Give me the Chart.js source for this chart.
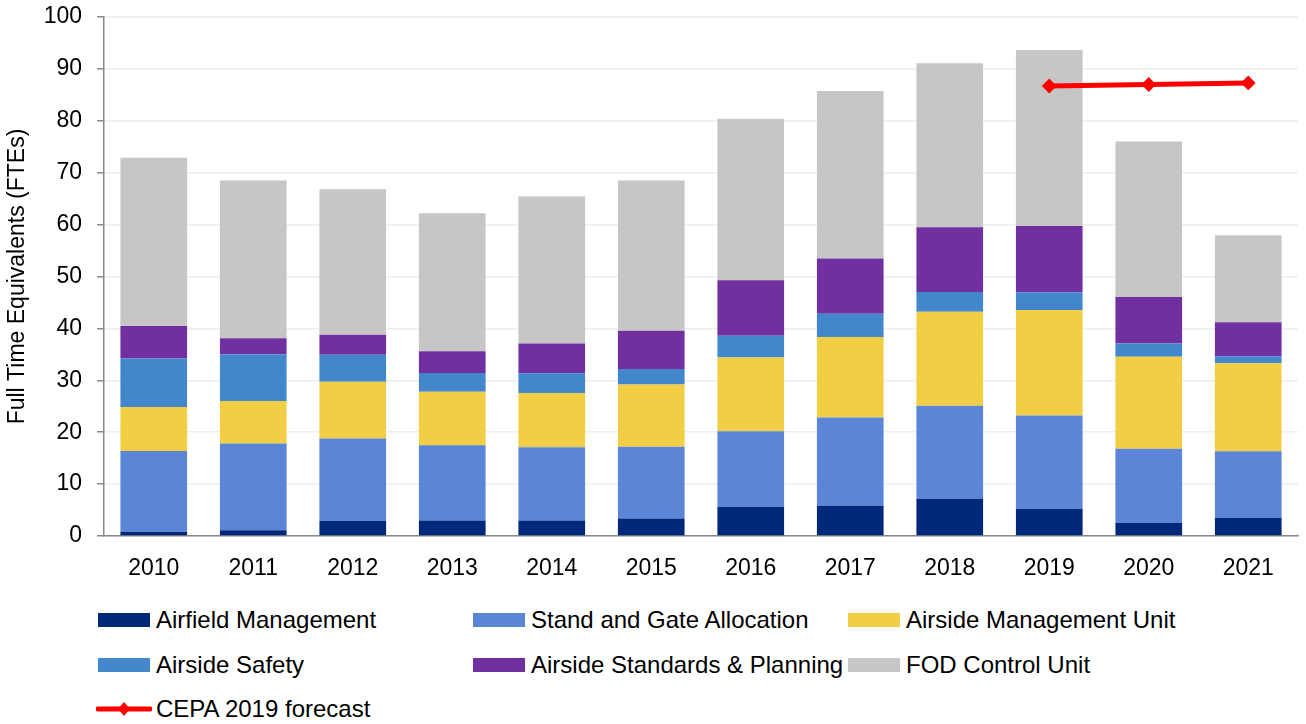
<!DOCTYPE html>
<html>
<head>
<meta charset="utf-8">
<script src="https://cdn.jsdelivr.net/npm/chart.js@4/dist/chart.umd.min.js"></script>
<style>
  body { margin: 0; background: #fff; font-family: "Liberation Sans", Arial, sans-serif; }
  #wrap { position: relative; width: 1306px; height: 724px; }
  #fte { position: absolute; left: 0; top: 0; }
  #legend {
    position: absolute; left: 96px; top: 598px;
    display: grid; grid-template-columns: 375px 375px 375px; grid-auto-rows: 44.5px;
  }
  .item { display: flex; align-items: center; font-size: 24px; color: #000; white-space: nowrap; }
  .swatch { width: 52px; height: 14px; margin: 0 6px 0 2px; }
</style>
</head>
<body>
<div id="wrap">
  <canvas id="fte" width="1306" height="590"></canvas>
  <div id="legend"></div>
</div>
<script>
const years = ['2010', '2011', '2012', '2013', '2014', '2015', '2016', '2017', '2018', '2019', '2020', '2021'];

// FTEs per team, stacked bottom to top
const airfieldMgmt = [0.8, 1.1, 2.9, 3.0, 3.0, 3.35, 5.65, 5.85, 7.2, 5.25, 2.55, 3.5];
const standGate = [15.6, 16.7, 15.9, 14.5, 14.1, 13.85, 14.55, 17.0, 17.9, 17.95, 14.25, 12.85];
const airsideMgmtUnit = [8.45, 8.2, 10.9, 10.3, 10.45, 12.0, 14.2, 15.5, 18.1, 20.35, 17.75, 16.95];
const airsideSafety = [9.35, 9.0, 5.2, 3.6, 3.8, 3.0, 4.2, 4.45, 3.8, 3.4, 2.55, 1.35];
const standardsPlanning = [6.25, 3.1, 3.9, 4.2, 5.75, 7.35, 10.7, 10.65, 12.5, 12.8, 8.95, 6.55];
const fodControl = [32.45, 30.4, 28.0, 26.6, 28.3, 28.95, 31.1, 32.3, 31.6, 33.9, 29.95, 16.75];
const cepaForecast = [null, null, null, null, null, null, null, null, null, 86.7, 87.0, 87.3];

const yTicks = [0, 10, 20, 30, 40, 50, 60, 70, 80, 90, 100];

const font = { family: '"Liberation Sans", Arial, sans-serif', size: 23 };

const bar = (label, data, color) => ({
  type: 'bar',
  label: label,
  data: data,
  backgroundColor: color,
  borderWidth: 0,
  stack: 'teams',
  order: 1,
  barPercentage: 0.67,
  categoryPercentage: 1,
});

const datasets = [
  bar('Airfield Management', airfieldMgmt, '#00287a'),
  bar('Stand and Gate Allocation', standGate, '#5b85d6'),
  bar('Airside Management Unit', airsideMgmtUnit, '#f2ce45'),
  bar('Airside Safety', airsideSafety, '#4286cc'),
  bar('Airside Standards & Planning', standardsPlanning, '#7030a0'),
  bar('FOD Control Unit', fodControl, '#c6c6c6'),
  {
    type: 'line',
    label: 'CEPA 2019 forecast',
    data: cepaForecast,
    borderColor: '#ff0000',
    backgroundColor: '#ff0000',
    borderWidth: 5,
    pointStyle: 'rectRot',
    pointRadius: 6,
    pointBorderWidth: 2,
    stack: 'forecast',
    order: 0,
  },
];

const chart = new Chart(document.getElementById('fte'), {
  data: { labels: years, datasets: datasets },
  options: {
    responsive: false,
    animation: false,
    layout: { padding: { top: 17, right: 2, left: 0, bottom: 0 } },
    plugins: { legend: { display: false }, tooltip: { enabled: false } },
    scales: {
      x: {
        stacked: true,
        grid: { display: false },
        border: { color: '#898989', width: 1.5 },
        ticks: { color: '#000', font: font, padding: 11 },
        afterFit: (s) => { s.height = 54; },
      },
      y: {
        stacked: true,
        min: 0,
        max: 100,
        afterBuildTicks: (s) => { s.ticks = yTicks.map(v => ({ value: v })); },
        grid: { color: '#eeeeee', lineWidth: 1.5, tickLength: 7, tickColor: '#898989' },
        border: { color: '#898989', width: 1.5 },
        ticks: { color: '#000', font: font, padding: 15 },
        title: {
          display: true,
          text: 'Full Time Equivalents (FTEs)',
          color: '#000',
          font: { family: font.family, size: 23 },
          padding: { top: 4, bottom: 0 },
        },
        // fixed axis width; top label room comes from layout padding
        afterFit: (s) => { s.width = 104; s.paddingTop = 0; s.paddingBottom = 0; },
      },
    },
  },
});

// legend laid out in three columns under the plot
const legend = document.getElementById('legend');
chart.data.datasets.forEach(ds => {
  const item = document.createElement('div');
  item.className = 'item';
  let sw;
  if (ds.type === 'line') {
    sw = document.createElementNS('http://www.w3.org/2000/svg', 'svg');
    sw.setAttribute('width', '56');
    sw.setAttribute('height', '18');
    sw.style.margin = '0 4px 0 0';
    sw.innerHTML = '<line x1="2" y1="9" x2="54" y2="9" stroke="' + ds.borderColor + '" stroke-width="5" stroke-linecap="round"/>' +
      '<polygon points="22,9 28,2 34,9 28,16" fill="' + ds.borderColor + '"/>';
  } else {
    sw = document.createElement('div');
    sw.className = 'swatch';
    sw.style.background = ds.backgroundColor;
  }
  item.appendChild(sw);
  const txt = document.createElement('span');
  txt.textContent = ds.label;
  item.appendChild(txt);
  legend.appendChild(item);
});
</script>
</body>
</html>
